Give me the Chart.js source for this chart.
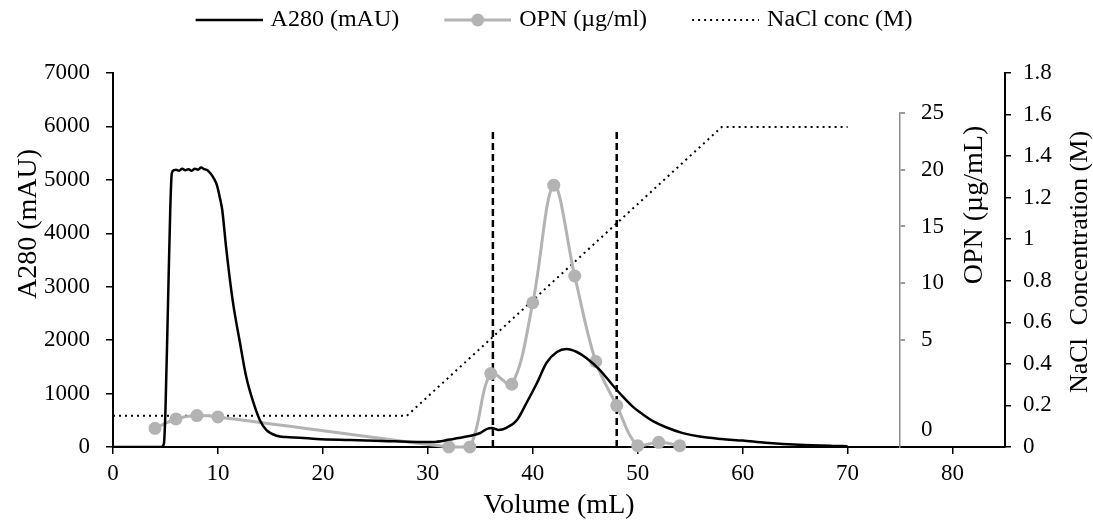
<!DOCTYPE html>
<html>
<head>
<meta charset="utf-8">
<script src="https://cdn.jsdelivr.net/npm/chart.js@4.4.0/dist/chart.umd.min.js"></script>
<style>
  html, body { margin: 0; padding: 0; background: #fff; }
  canvas { display: block; }
</style>
</head>
<body>
<canvas id="chart" width="1093" height="525"></canvas>
<script>
// A280 trace (volume mL, absorbance mAU)
const a280Vol = [0, 4.6, 4.85, 5.0, 5.25, 5.45, 5.6, 5.8, 6.0, 6.3, 6.6, 6.9, 7.2, 7.5, 7.8, 8.1, 8.4, 8.7, 9.0, 9.3, 9.6, 9.9, 10.2, 10.4,
  10.8, 11.4, 12.1, 12.7, 13.4, 14.0, 14.6, 15.6, 16.5, 17.8, 19.4, 22.6, 25.7, 29.0, 30.5, 32.1, 33.7, 35.0, 35.6, 36.1, 36.7,
  37.5, 38.5, 39.4, 40.4, 41.3, 42.3, 43.2, 44.2, 45.1, 46.4, 47.6, 48.5, 49.5, 50.5, 51.5, 52.7, 54.3, 55.9, 58.0, 60.0, 62.2,
  65.4, 68.6, 70.0];
const a280Abs = [0, 0, 60, 700, 2750, 4400, 5120, 5180, 5190, 5170, 5210, 5180, 5200, 5170, 5210, 5190, 5230, 5200, 5180, 5120, 5030, 4900, 4650, 4450,
  3700, 2750, 1950, 1310, 820, 500, 320, 210, 185, 175, 150, 130, 112, 95, 95, 140, 195, 262, 335, 355, 320,
  360, 505, 823, 1198, 1572, 1778, 1834, 1778, 1666, 1441, 1160, 960, 760, 610, 480, 370, 260, 195, 150, 120, 80,
  40, 20, 15];

// OPN in the collected fractions (µg/ml)
const opnVol = [4, 6, 8, 10, 32, 34, 36, 38, 40, 42, 44, 46, 48, 50, 52, 54];
const opnConc = [1.4, 2.1, 2.35, 2.25, 0, 0, 5.5, 4.7, 10.8, 19.6, 12.8, 6.4, 3.1, 0.1, 0.35, 0.1];

// NaCl gradient (M)
const naclVol = [0, 28, 58, 70];
const naclConc = [0.15, 0.15, 1.54, 1.54];

// pooled fraction limits
const poolVol = [36.2, 48];
const poolTop = 5900;

// tick labels
const volTicks = [0, 10, 20, 30, 40, 50, 60, 70, 80];
const opnTicks = [0, 5, 10, 15, 20, 25];

const FONT = 'Liberation Serif';
const GREY = '#b3b3b3';
const opnZeroAt = -2.89; // where the "0" of the OPN axis sits

Chart.defaults.font.family = FONT;
Chart.defaults.font.size = 23;
Chart.defaults.color = '#000';

function legendSample(draw) {
  const c = document.createElement('canvas');
  c.width = 108;
  c.height = 16;
  const g = c.getContext('2d');
  draw(g);
  return c;
}
const sampleA280 = legendSample(g => {
  g.strokeStyle = '#000'; g.lineWidth = 2.5;
  g.beginPath(); g.moveTo(41, 8); g.lineTo(108, 8); g.stroke();
});
const sampleOpn = legendSample(g => {
  g.strokeStyle = GREY; g.lineWidth = 3;
  g.beginPath(); g.moveTo(41, 8); g.lineTo(108, 8); g.stroke();
  g.fillStyle = GREY;
  g.beginPath(); g.arc(74.5, 8, 6.5, 0, Math.PI * 2); g.fill();
});
const sampleNacl = legendSample(g => {
  g.strokeStyle = '#000'; g.lineWidth = 2; g.setLineDash([2, 4]);
  g.beginPath(); g.moveTo(41, 8); g.lineTo(108, 8); g.stroke();
});

const sideTitles = [
  { text: 'A280 (mAU)', x: 29, y: 224, size: 28 },
  { text: 'OPN (µg/mL)', x: 975, y: 205, size: 28 },
  { text: 'NaCl  Concentration (M)', x: 1080, y: 262, size: 26 }
];

const tweaks = {
  id: 'tweaks',
  afterLayout(chart) {
    // the OPN axis stands inside the plot at 75 mL
    const s = chart.scales.yOpnAxis;
    const left = chart.scales.x.getPixelForValue(75);
    s.left = left;
    s.right = left + 120;
    s.top = s.getPixelForValue(25);
    // legend sits at the very top, a bit left of centre
    const lg = chart.legend;
    const dy = -lg.top;
    lg.top += dy; lg.bottom += dy;
    lg.left -= 11; lg.right -= 11;
  },
  afterDraw(chart) {
    const ctx = chart.ctx;
    ctx.save();
    ctx.fillStyle = '#000';
    ctx.textAlign = 'center';
    ctx.textBaseline = 'middle';
    sideTitles.forEach(t => {
      ctx.font = t.size + 'px "' + FONT + '"';
      ctx.save();
      ctx.translate(t.x, t.y);
      ctx.rotate(-Math.PI / 2);
      ctx.fillText(t.text, 0, 0);
      ctx.restore();
    });
    ctx.restore();
  }
};

const axisGrid = { drawOnChartArea: false, tickLength: 7, color: '#000', lineWidth: 1.5 };
const axisBorder = { display: true, color: '#000', width: 2 };

new Chart(document.getElementById('chart'), {
  type: 'line',
  data: {
    datasets: [
      {
        label: 'A280 (mAU)',
        data: a280Vol.map((v, i) => ({ x: v, y: a280Abs[i] })),
        yAxisID: 'y',
        borderColor: '#000',
        borderWidth: 2.5,
        pointRadius: 0,
        cubicInterpolationMode: 'monotone'
      },
      {
        label: 'OPN (µg/ml)',
        data: opnVol.map((v, i) => ({ x: v, y: opnConc[i] })),
        yAxisID: 'yOpn',
        borderColor: GREY,
        backgroundColor: GREY,
        borderWidth: 3,
        pointRadius: 6.5,
        pointBorderWidth: 0,
        pointBackgroundColor: GREY,
        tension: 0.35,
        clip: false
      },
      {
        label: 'NaCl conc (M)',
        data: naclVol.map((v, i) => ({ x: v, y: naclConc[i] })),
        yAxisID: 'yNacl',
        borderColor: '#000',
        borderWidth: 2,
        borderDash: [2, 4],
        pointRadius: 0
      },
      ...poolVol.map(v => ({
        label: 'pool',
        data: [{ x: v, y: 0 }, { x: v, y: poolTop }],
        yAxisID: 'y',
        borderColor: '#000',
        borderWidth: 2.5,
        borderDash: [7, 4],
        pointRadius: 0
      }))
    ]
  },
  options: {
    responsive: false,
    animation: false,
    events: [],
    devicePixelRatio: 1,
    layout: { padding: 0 },
    plugins: {
      tooltip: { enabled: false },
      legend: {
        position: 'top',
        labels: {
          usePointStyle: true,
          pointStyleWidth: 100,
          padding: 8,
          font: { size: 24 },
          color: '#000',
          generateLabels: () => [
            { text: 'A280 (mAU)', pointStyle: sampleA280, datasetIndex: 0, fontColor: '#000', hidden: false },
            { text: 'OPN (µg/ml)', pointStyle: sampleOpn, datasetIndex: 1, fontColor: '#000', hidden: false },
            { text: 'NaCl conc (M)', pointStyle: sampleNacl, datasetIndex: 2, fontColor: '#000', hidden: false }
          ]
        }
      }
    },
    scales: {
      x: {
        type: 'linear',
        min: 0,
        max: 85,
        afterBuildTicks: s => { s.ticks = volTicks.map(v => ({ value: v })); },
        afterFit: s => { s.height = 78; },
        ticks: { padding: 6, maxRotation: 0 },
        grid: axisGrid,
        border: axisBorder,
        title: { display: true, text: 'Volume (mL)', font: { size: 28 }, padding: { top: 0, bottom: 3 } }
      },
      y: {
        position: 'left',
        min: 0,
        max: 7000,
        ticks: { stepSize: 1000, padding: 16, callback: v => String(v) },
        afterFit: s => { s.width = 113; s.paddingTop = 73; },
        grid: axisGrid,
        border: axisBorder
      },
      yNacl: {
        position: 'right',
        min: 0,
        max: 1.8,
        ticks: { stepSize: 0.2, padding: 12, callback: v => String(Math.round(v * 10) / 10) },
        afterFit: s => { s.width = 88; },
        grid: { drawOnChartArea: false, tickLength: 6, color: '#000', lineWidth: 1.5 },
        border: axisBorder
      },
      yOpn: {
        display: false,
        min: 0,
        max: 28
      },
      yOpnAxis: {
        position: 'right',
        min: -4.43,
        max: 28.52,
        afterBuildTicks: s => { s.ticks = opnTicks.map(v => ({ value: v === 0 ? opnZeroAt : v })); },
        afterFit: s => { s.width = 0; },
        ticks: { padding: 16, autoSkip: false, callback: v => (v === opnZeroAt ? '0' : String(v)) },
        grid: {
          drawOnChartArea: false,
          tickLength: 5,
          lineWidth: 2,
          color: '#9a9a9a',
          tickColor: c => (c.tick && c.tick.value === opnZeroAt ? 'rgba(0,0,0,0)' : '#9a9a9a')
        },
        border: { display: true, color: '#8c8c8c', width: 1.5 }
      }
    }
  },
  plugins: [tweaks]
});
</script>
</body>
</html>
